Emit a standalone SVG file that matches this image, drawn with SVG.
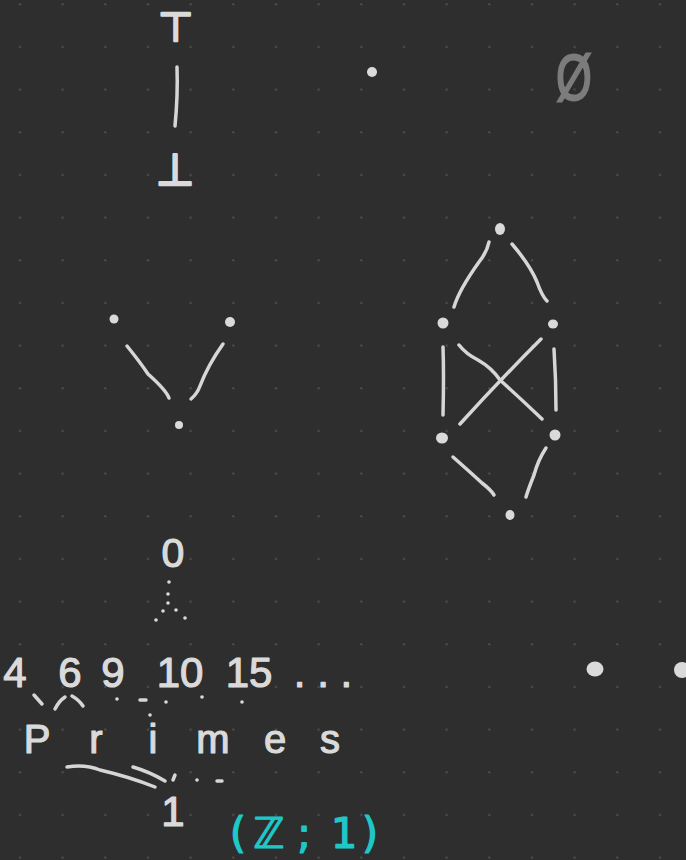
<svg xmlns="http://www.w3.org/2000/svg" width="686" height="860" viewBox="0 0 686 860">
<defs>
<pattern id="grid" x="0" y="0" width="42.667" height="42.667" patternUnits="userSpaceOnUse">
<circle cx="20" cy="4.33" r="1.1" fill="#555"/>
</pattern>
</defs>
<style>
.t{font-family:"Liberation Sans",Arial,sans-serif;fill:#dadada;stroke:#dadada;stroke-width:1.2;stroke-linejoin:round;}
.sym{font-family:"DejaVu Sans",sans-serif;fill:#dadada;stroke:#dadada;stroke-width:2.6;stroke-linejoin:round;}
.e{fill:none;stroke:#d6d6d6;stroke-width:3.5;stroke-linecap:round;stroke-linejoin:round;}
.d{fill:#dadada;}
.teal{font-family:"DejaVu Sans",sans-serif;fill:#1fc8c8;stroke:#1fc8c8;stroke-width:1.2;stroke-linejoin:round;}
</style>
<rect width="686" height="860" fill="#2e2e2e"/>
<rect width="686" height="860" fill="url(#grid)"/>

<g id="top-chain">
<text class="sym" x="176" y="41" font-size="40" text-anchor="middle">⊤</text>
<text class="sym" x="175" y="185" font-size="44" text-anchor="middle">⊥</text>
</g>
<g id="single-dot"><circle class="d" cx="372" cy="72" r="5"/></g>
<g id="empty-set"><text x="0" y="0" font-size="64" transform="translate(574,100) scale(0.72,1)" text-anchor="middle" style="font-family:'Liberation Sans',Arial,sans-serif;fill:#7c7c7c;stroke:#7c7c7c;stroke-width:2;">Ø</text></g>

<g id="v-left"><circle class="d" cx="114" cy="319" r="4.5"/></g>
<g id="v-right"><circle class="d" cx="230" cy="322" r="5"/></g>
<g id="v-bottom"><circle class="d" cx="179" cy="425" r="4"/></g>

<g id="d-top"><ellipse class="d" cx="500" cy="229" rx="5" ry="6"/></g>
<g id="d-left"><circle class="d" cx="443" cy="323" r="5.5"/></g>
<g id="d-right"><ellipse class="d" cx="553" cy="324" rx="5" ry="4.5"/></g>
<g id="d-bl"><ellipse class="d" cx="442" cy="438" rx="6" ry="5.5"/></g>
<g id="d-br"><circle class="d" cx="555" cy="435" r="5.5"/></g>
<g id="d-bottom"><ellipse class="d" cx="510" cy="515" rx="4.5" ry="5"/></g>

<g id="zero"><text class="t" x="173" y="567" font-size="41" text-anchor="middle">0</text></g>
<g id="numbers"><text class="t" y="687" font-size="42" text-anchor="middle"><tspan x="15">4</tspan><tspan x="70">6</tspan><tspan x="113">9</tspan><tspan x="180">10</tspan><tspan x="249">15</tspan><tspan x="323">. . .</tspan></text></g>
<g id="primes"><text class="t" y="753" font-size="40" text-anchor="middle"><tspan x="37">P</tspan><tspan x="96">r</tspan><tspan x="153">i</tspan><tspan x="213">m</tspan><tspan x="275">e</tspan><tspan x="330">s</tspan></text></g>
<g id="one"><text class="t" x="173" y="826" font-size="42" text-anchor="middle">1</text></g>
<g id="two-dots"><ellipse class="d" cx="595" cy="669" rx="8.5" ry="7.5"/><ellipse class="d" cx="682" cy="670" rx="8" ry="8"/></g>
<g id="z-label"><text class="teal" y="848" font-size="42" text-anchor="middle"><tspan x="238">(</tspan><tspan x="269">ℤ</tspan><tspan x="304">;</tspan><tspan x="344">1</tspan><tspan x="370">)</tspan></text></g>

<g id="connectors">
<path class="e" d="M177 67 Q178 95 175 126"/>
<path class="e" d="M127 346 Q140 362 148 374 Q166 390 169 398"/>
<path class="e" d="M223 344 Q208 365 200 386 Q197 394 191 399"/>
<path class="e" d="M489 242 Q487 252 479 262 Q459 290 454 307"/>
<path class="e" d="M512 244 Q530 265 537 282 Q542 296 547 301"/>
<path class="e" d="M443 347 Q444 375 443 415"/>
<path class="e" d="M554 349 Q556 380 556 410"/>
<path class="e" d="M459 345 Q466 354 478 360 Q492 368 500 380 Q520 398 542 419"/>
<path class="e" d="M541 339 Q500 380 460 424"/>
<path class="e" d="M453 457 Q470 472 482 483 Q491 490 494 495"/>
<path class="e" d="M546 448 Q538 460 534 475 Q528 490 526 497"/>
<g class="d">
<circle cx="169" cy="582" r="1.8"/><circle cx="168" cy="594" r="1.8"/><circle cx="168" cy="603" r="1.8"/>
<circle cx="163" cy="611" r="1.8"/><circle cx="176" cy="610" r="1.8"/><circle cx="156" cy="620" r="1.8"/><circle cx="185" cy="618" r="1.8"/>
<circle cx="117" cy="699" r="1.8"/><circle cx="150" cy="715" r="1.8"/><circle cx="166" cy="702" r="1.8"/>
<circle cx="202" cy="697" r="1.8"/><circle cx="242" cy="702" r="1.8"/><circle cx="197" cy="780" r="1.8"/>
</g>
<path class="e" d="M34 695 L42 704"/>
<path class="e" d="M55 709 Q59 701 65 697"/>
<path class="e" d="M72 696 Q79 700 83 706"/>
<path class="e" d="M140 700 L146 700"/>
<path class="e" d="M67 767 Q85 764 100 770 Q130 777 155 787"/>
<path class="e" d="M133 767 Q150 772 165 781"/>
<path class="e" d="M173 780 L175 775"/>
<path class="e" d="M217 781 L222 781"/>
</g>
</svg>
